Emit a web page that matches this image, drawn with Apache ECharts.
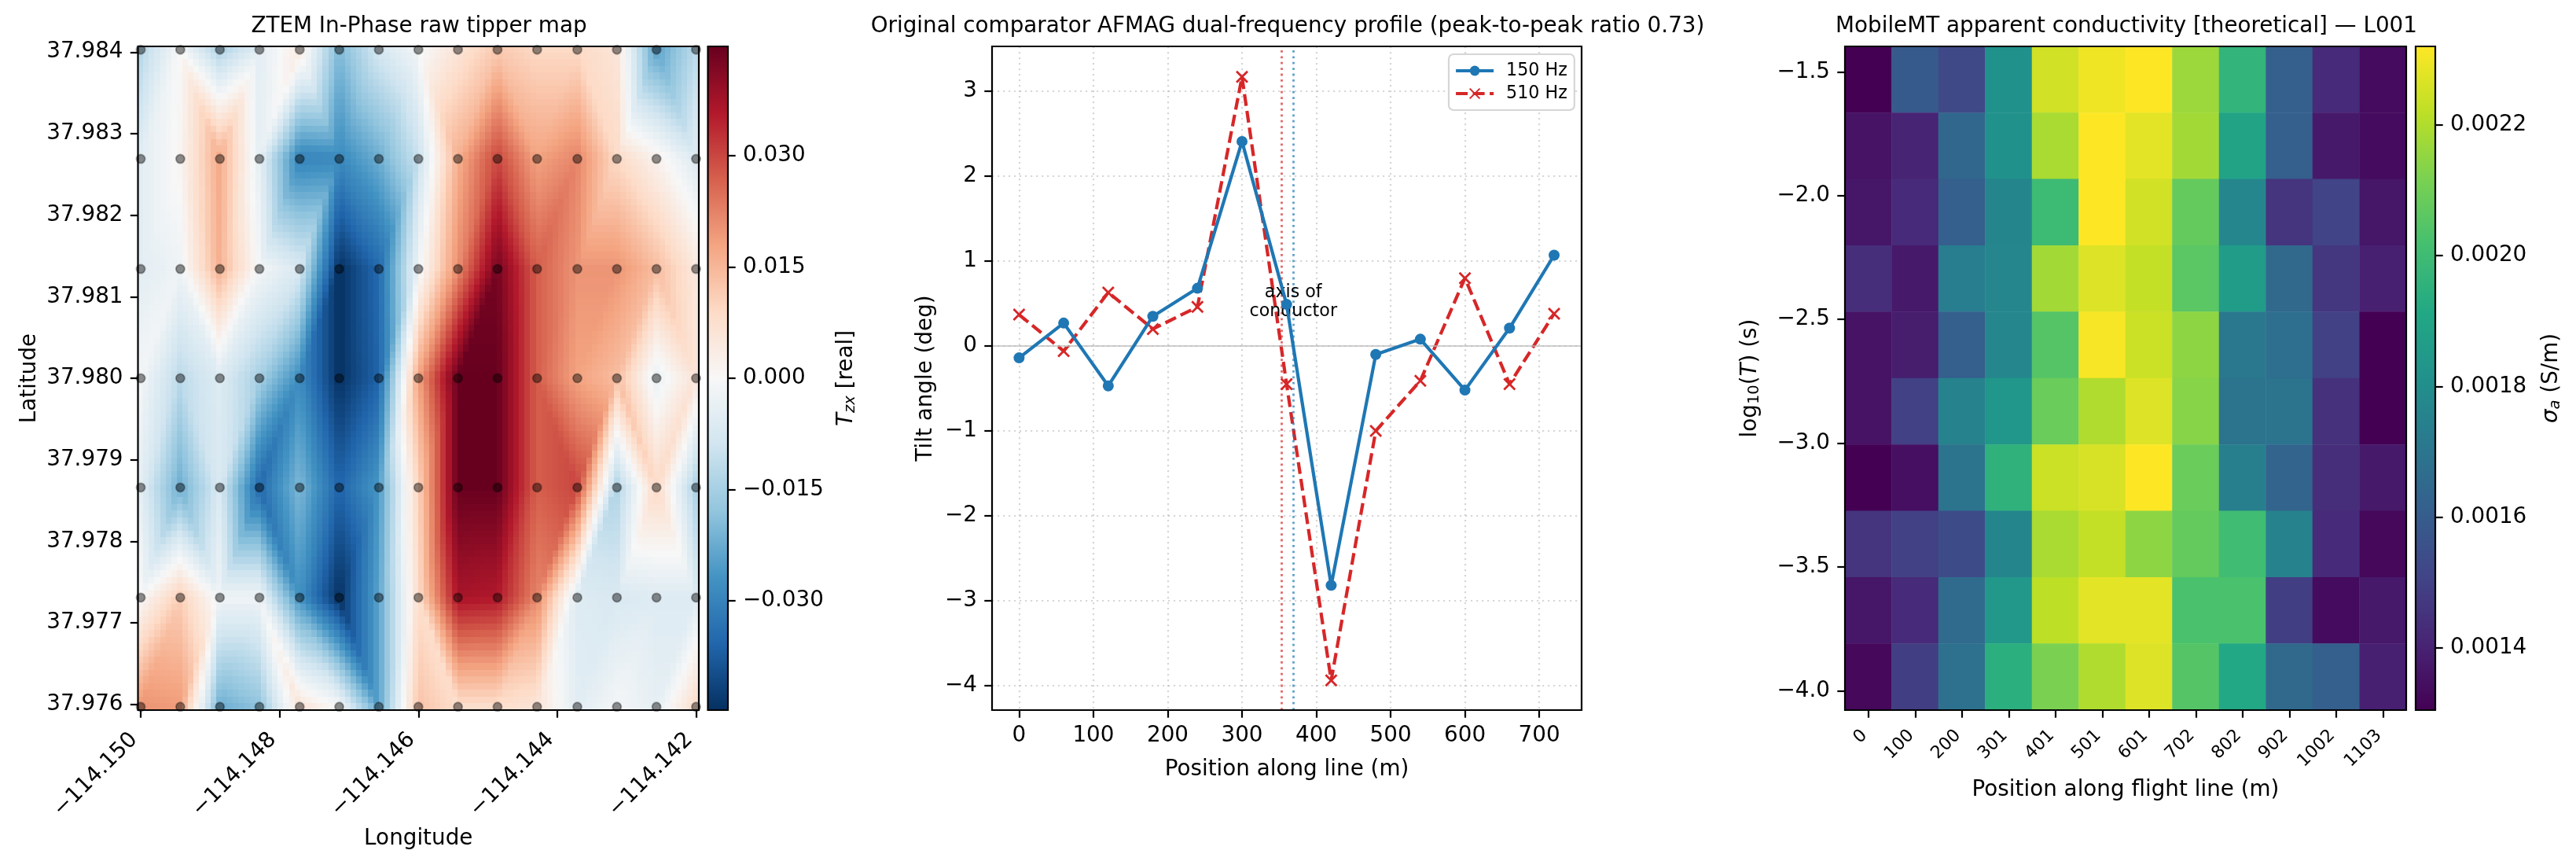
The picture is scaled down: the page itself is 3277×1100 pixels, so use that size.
<!DOCTYPE html>
<html><head><meta charset="utf-8">
<style>html,body{margin:0;padding:0;background:#fff}#c{width:3277px;height:1100px}</style>
<script src="https://cdn.jsdelivr.net/npm/echarts@6/dist/echarts.min.js"></script>
</head><body><div id="c"></div>
<script>
// ---------- left panel: stations and read tipper values ----------
const stationLons=[-114.15,-114.14943,-114.14886,-114.14829,-114.14771,-114.14714,-114.14657,-114.146,-114.14543,-114.14486,-114.14429,-114.14371,-114.14314,-114.14257,-114.142];
const stationLats=[37.98403,37.98269,37.98134,37.98,37.97866,37.97731,37.97597];
const tipperRows=[
[-.013,0,-.014,-.005,.004,-.020,-.008,-.001,.006,.012,.009,.009,.006,-.024,-.012],
[-.005,.001,.017,-.004,-.030,-.029,-.022,-.010,.016,.030,.018,.022,.009,.002,-.006],
[-.005,-.002,.016,-.001,-.007,-.0447,-.035,-.002,.021,.043,.027,.020,.020,.014,.005],
[-.001,-.012,-.006,-.015,-.028,-.0447,-.036,.018,.0447,.0447,.027,.018,.014,-.003,.006],
[-.005,-.022,-.007,-.035,-.020,-.036,-.026,.010,.0447,.0447,.027,.030,-.014,.009,-.014],
[0,.011,-.002,-.002,-.027,-.0447,-.024,.008,.037,.036,.022,-.006,-.007,-.006,-.006],
[.020,.019,-.022,-.018,.006,-.001,-.024,.013,.008,.008,.006,-.005,-.001,-.004,.008]];
const meshDiagonals=["fbffbffbfbfbfb","fbfffbfffbffbf","fbfffffffffffb","fbffffffffbfbf","fbfbffffbffffb","fffbbbfbffffff"];
const lonTicks=[-114.15,-114.148,-114.146,-114.144,-114.142];
const latTicks=[37.976,37.977,37.978,37.979,37.98,37.981,37.982,37.983,37.984];
const tipperTicks=[-.03,-.015,0,.015,.03];
// ---------- middle panel ----------
const positions=[0,60,120,180,240,300,360,420,480,540,600,660,720];
const tilt150=[-.14,.27,-.47,.35,.68,2.41,.49,-2.82,-.10,.08,-.52,.21,1.07];
const tilt510=[.37,-.06,.63,.20,.46,3.17,-.45,-3.94,-1.0,-.41,.80,-.45,.38];
const axis150=369, axis510=353;
const profileXTicks=[0,100,200,300,400,500,600,700];
const profileYTicks=[-4,-3,-2,-1,0,1,2,3];
// ---------- right panel ----------
const flightPositions=['0','100','200','301','401','501','601','702','802','902','1002','1103'];
const logPeriods=['-1.53','-1.80','-2.07','-2.33','-2.60','-2.87','-3.14','-3.41','-3.68','-3.95'];
const sigmaRows=[
[1.305,1.589,1.528,1.813,2.249,2.300,2.320,2.168,1.965,1.610,1.427,1.335],
[1.356,1.406,1.640,1.813,2.188,2.320,2.279,2.178,1.894,1.610,1.376,1.335],
[1.366,1.427,1.610,1.762,1.995,2.320,2.249,2.076,1.772,1.457,1.508,1.366],
[1.437,1.376,1.731,1.772,2.178,2.269,2.229,2.056,1.863,1.650,1.467,1.396],
[1.356,1.386,1.610,1.772,2.046,2.310,2.239,2.147,1.711,1.670,1.498,1.305],
[1.356,1.498,1.752,1.833,2.087,2.198,2.269,2.137,1.691,1.691,1.447,1.305],
[1.305,1.346,1.691,1.955,2.239,2.259,2.320,2.087,1.741,1.630,1.437,1.376],
[1.457,1.498,1.538,1.762,2.188,2.229,2.147,2.076,2.005,1.752,1.427,1.325],
[1.366,1.427,1.660,1.843,2.219,2.279,2.279,2.026,2.026,1.488,1.335,1.376],
[1.325,1.488,1.681,1.944,2.117,2.198,2.269,2.046,1.914,1.650,1.610,1.396]];
const logTTicks=[-4,-3.5,-3,-2.5,-2,-1.5];
const sigmaTicks=[.0014,.0016,.0018,.002,.0022];
// ---------- scale limits ----------
const tipperMin=-.0447,tipperMax=.0447,sigmaMin=.001305,sigmaMax=.00232;
const rdbu=['#053061','#2166ac','#4393c3','#92c5de','#d1e5f0','#f7f7f7','#fddbc7','#f4a582','#d6604d','#b2182b','#67001f'];
const viridis=['#440154','#482475','#414487','#355f8d','#2a788e','#21918c','#22a884','#44bf70','#7ad151','#bddf26','#fde725'];

const FONT='DejaVu Sans',TICK=27.8,LW=2.2;
const G={map:{x:175.5,y:59,w:713.5,h:844},mapCb:{x:900.5,y:59,w:25.5,h:844},
 prof:{x:1262,y:59,w:750,h:844},heat:{x:2347,y:59,w:714,h:844},heatCb:{x:3073,y:59,w:25,h:844}};
const grid=Object.values(G).map(g=>({left:g.x,top:g.y,width:g.w,height:g.h,containLabel:false}));
const hex=c=>[parseInt(c.slice(1,3),16),parseInt(c.slice(3,5),16),parseInt(c.slice(5,7),16)];
const rdbuRgb=rdbu.map(hex);
function rdbuColor(v){let t=(v-tipperMin)/(tipperMax-tipperMin)*10;t=Math.max(0,Math.min(9.999,t));
 const i=Math.floor(t),f=t-i,a=rdbuRgb[i],b=rdbuRgb[i+1];
 return 'rgb('+[0,1,2].map(k=>Math.round(a[k]+(b[k]-a[k])*f)).join(',')+')';}
const stops=a=>a.map((c,i)=>({offset:1-i/(a.length-1),color:c})).reverse();

// shading inside one mesh triangle, from its read corner stations
function surface(c,r,u,v){const z=tipperRows,a=z[r][c],b=z[r][c+1],d=z[r+1][c],e=z[r+1][c+1];
 if(meshDiagonals[r][c]==='b'){return u>=v? a+u*(b-a)+v*(e-b): a+v*(d-a)+u*(e-d);}
 return u+v<=1? a+u*(b-a)+v*(d-a): e+(1-u)*(d-e)+(1-v)*(b-e);}
const MESH=100,lonA=stationLons[0],lonB=stationLons[14],latA=stationLats[0],latB=stationLats[6];
function renderQuad(p,api){const c=api.value(0),r=api.value(1),kids=[];
 const dx=(lonB-lonA)/(MESH-1),dy=(latB-latA)/(MESH-1);
 for(let i=0;i<MESH;i++){const lon=lonA+i*dx;
  if(lon<stationLons[c]-1e-9||(lon>=stationLons[c+1]-1e-9&&c<13))continue;
  for(let j=0;j<MESH;j++){const lat=latA+j*dy;
   if(lat>stationLats[r]+1e-9||(lat<=stationLats[r+1]+1e-9&&r<5))continue;
   const u=(lon-stationLons[c])/(stationLons[c+1]-stationLons[c]),v=(lat-stationLats[r])/(stationLats[r+1]-stationLats[r]);
   const p0=api.coord([lon-dx/2,lat-dy/2]),p1=api.coord([lon+dx/2,lat+dy/2]);
   const x0=Math.floor(p0[0]),y0=Math.floor(p0[1]),x1=Math.ceil(p1[0]),y1=Math.ceil(p1[1]);
   kids.push({type:'rect',shape:{x:x0,y:y0,width:x1-x0,height:y1-y0},style:{fill:rdbuColor(surface(c,r,u,v))}});
  }}
 return {type:'group',children:kids};}
const quads=[];meshDiagonals.forEach((s,r)=>{for(let c=0;c<s.length;c++)quads.push([c,r]);});
const stations=[];stationLats.forEach(la=>stationLons.forEach(lo=>stations.push([lo,la])));

const minus=s=>String(s).replace('-','\u2212');
const tickStyle={show:true,length:9.7,lineStyle:{color:'#000',width:LW}};
function axisCommon(o){return Object.assign({axisLine:{show:false,onZero:false},splitLine:{show:false},nameTextStyle:{fontFamily:FONT,fontSize:TICK,color:'#000'}},o);}
function lab(fmt,extra){return Object.assign({fontFamily:FONT,fontSize:TICK,color:'#000',margin:19,formatter:fmt,showMinLabel:true,showMaxLabel:true},extra||{});}
const hidden=(g,t)=>({gridIndex:g,type:t||'value',min:0,max:1,show:false});
const frame=g=>({type:'custom',xAxisIndex:g.x,yAxisIndex:g.y,z:20,silent:true,clip:false,data:[[0,0]],
 renderItem:(p)=>{const s=p.coordSys;return {type:'rect',shape:{x:s.x,y:s.y,width:s.width,height:s.height},style:{fill:'none',stroke:'#000',lineWidth:LW}};}});
const colorbar=(xi,yi,lo,hi,cols)=>({type:'custom',xAxisIndex:xi,yAxisIndex:yi,silent:true,data:[[lo,hi]],
 renderItem:(p,api)=>{const a=api.coord([0,api.value(1)]),b=api.coord([1,api.value(0)]);
  return {type:'rect',shape:{x:a[0],y:a[1],width:b[0]-a[0],height:b[1]-a[1]},
   style:{fill:new echarts.graphic.LinearGradient(0,0,0,1,stops(cols))}};}});
const XICON='path://M0 0L10 10M10 0L0 10';
const titleOf=(text,cx)=>({text,left:cx,top:15,textAlign:'center',textStyle:{fontFamily:FONT,fontSize:TICK,fontWeight:'normal',color:'#000'}});
const ML=(color,xv)=>({silent:true,symbol:'none',animation:false,label:{show:false},lineStyle:{color,type:[2.8,4.6],width:2.8,opacity:.7},data:[{xAxis:xv}]});
const subRich={i:{fontFamily:FONT,fontSize:TICK,fontStyle:'italic',color:'#000'},s:{fontFamily:FONT,fontSize:19.5,fontStyle:'italic',color:'#000',verticalAlign:'bottom',padding:[10,0,0,0]}};
const dotGrid={show:true,lineStyle:{color:'rgba(176,176,176,.5)',type:[2.2,4.8],width:2.2}};
const option={animation:false,backgroundColor:'#fff',grid,
 title:[titleOf('ZTEM In-Phase raw tipper map',528),
        titleOf('Original comparator AFMAG dual-frequency profile (peak-to-peak ratio 0.73)',1633),
        titleOf('MobileMT apparent conductivity [theoretical] \u2014 L001',2700)],
 legend:{data:['150 Hz','510 Hz'],left:1843,top:69,orient:'vertical',padding:[10,9,10,7],itemGap:7,itemWidth:48,itemHeight:16,
  backgroundColor:'#fff',borderColor:'rgba(204,204,204,.8)',borderWidth:2.2,borderRadius:6,lineStyle:{width:4.2},
  textStyle:{fontFamily:FONT,fontSize:22.2,color:'#000',padding:[0,0,0,11]},selectedMode:false,z:15},
 visualMap:[{show:false,seriesIndex:4,dimension:2,min:sigmaMin*1000,max:sigmaMax*1000,inRange:{color:viridis}}],
 xAxis:[
  axisCommon({gridIndex:0,type:'value',min:-114.15004,max:-114.14196,name:'Longitude',nameLocation:'middle',nameGap:150,
   axisTick:Object.assign({customValues:lonTicks},tickStyle),
   axisLabel:lab(v=>minus(v.toFixed(3)),{rotate:45,customValues:lonTicks,margin:25,padding:[0,12,0,0]})}),
  hidden(1),
  axisCommon({gridIndex:2,type:'value',min:-36.4,max:757,name:'Position along line (m)',nameLocation:'middle',nameGap:62,
   axisTick:Object.assign({customValues:profileXTicks},tickStyle),
   axisLabel:lab(v=>String(v),{customValues:profileXTicks}),
   splitLine:dotGrid}),
  axisCommon({gridIndex:3,type:'category',data:flightPositions,name:'Position along flight line (m)',nameLocation:'middle',nameGap:88,
   axisTick:Object.assign({alignWithLabel:true},tickStyle),
   axisLabel:{fontFamily:FONT,fontSize:22.2,color:'#000',rotate:45,margin:24,padding:[0,7,0,0],interval:0}}),
  hidden(4)],
 yAxis:[
  axisCommon({gridIndex:0,type:'value',min:37.97593,max:37.98407,name:'Latitude',nameLocation:'middle',nameGap:124,nameRotate:90,
   axisTick:Object.assign({customValues:latTicks},tickStyle),
   axisLabel:lab(v=>v.toFixed(3),{customValues:latTicks})}),
  axisCommon({gridIndex:1,type:'value',position:'right',min:tipperMin,max:tipperMax,name:'{i|T}{s|zx} [real]',nameLocation:'middle',nameGap:136,nameRotate:90,
   nameTextStyle:{fontFamily:FONT,fontSize:TICK,color:'#000',rich:subRich},
   axisTick:Object.assign({customValues:tipperTicks},tickStyle),
   axisLabel:lab(v=>minus(v.toFixed(3)),{customValues:tipperTicks})}),
  axisCommon({gridIndex:2,type:'value',min:-4.29,max:3.53,name:'Tilt angle (deg)',nameLocation:'middle',nameGap:70,nameRotate:90,
   axisTick:Object.assign({customValues:profileYTicks},tickStyle),
   axisLabel:lab(v=>minus(v),{customValues:profileYTicks}),
   splitLine:dotGrid}),
  {gridIndex:3,type:'category',position:'right',data:logPeriods.slice().reverse(),show:false},
  axisCommon({gridIndex:4,type:'value',position:'right',min:sigmaMin,max:sigmaMax,name:'{i|\u03c3}{s|a} (S/m)',nameLocation:'middle',nameGap:133,nameRotate:90,
   nameTextStyle:{fontFamily:FONT,fontSize:TICK,color:'#000',rich:subRich},
   axisTick:Object.assign({customValues:sigmaTicks},tickStyle),
   axisLabel:lab(v=>v.toFixed(4),{customValues:sigmaTicks})}),
  axisCommon({gridIndex:3,type:'value',position:'left',min:-4.078,max:-1.3975,name:'log{n|10}({i|T}) (s)',nameLocation:'middle',nameGap:105,nameRotate:90,
   nameTextStyle:{fontFamily:FONT,fontSize:TICK,color:'#000',rich:{i:subRich.i,n:{fontFamily:FONT,fontSize:19.5,color:'#000',verticalAlign:'bottom',padding:[10,0,0,0]}}},
   axisTick:Object.assign({customValues:logTTicks},tickStyle),
   axisLabel:lab(v=>minus(v.toFixed(1)),{customValues:logTTicks})})],
 series:[
  {type:'custom',name:'surface',xAxisIndex:0,yAxisIndex:0,clip:true,silent:true,data:quads,renderItem:renderQuad,z:1,progressive:0},
  {type:'scatter',name:'stations',xAxisIndex:0,yAxisIndex:0,data:stations,symbolSize:11,clip:true,silent:true,z:3,
   itemStyle:{color:'rgba(0,0,0,.55)',borderColor:'rgba(0,0,0,.4)',borderWidth:2}},
  {type:'line',name:'150 Hz',xAxisIndex:2,yAxisIndex:2,data:positions.map((x,i)=>[x,tilt150[i]]),symbol:'circle',symbolSize:14,
   lineStyle:{color:'#1f77b4',width:4.2},itemStyle:{color:'#1f77b4'},z:5,
   markLine:{silent:true,symbol:'none',animation:false,label:{show:false},data:[
     {yAxis:0,lineStyle:{color:'#bbb',type:'solid',width:2.2,opacity:.7}},
     {xAxis:axis150,lineStyle:{color:'#1f77b4',type:[2.8,4.6],width:2.8,opacity:.7}}]},
   markPoint:{silent:true,symbol:'circle',symbolSize:0,animation:false,
    label:{show:true,position:'inside',formatter:'axis of\nconductor',fontFamily:FONT,fontSize:22.2,color:'#000',lineHeight:24},
    data:[{coord:[axis150,.515]}]}},
  {type:'line',name:'510 Hz',xAxisIndex:2,yAxisIndex:2,data:positions.map((x,i)=>[x,tilt510[i]]),symbol:XICON,symbolSize:14,
   lineStyle:{color:'#d62728',width:4.2,type:[15,6.5]},itemStyle:{color:'#d62728',borderColor:'#d62728',borderWidth:2.8},z:4,
   markLine:ML('#d62728',axis510)},
  {type:'heatmap',name:'sigma',xAxisIndex:3,yAxisIndex:3,z:1,silent:true,progressive:0,
   data:(()=>{const d=[];const n=sigmaRows.length;sigmaRows.forEach((row,r)=>row.forEach((v,c)=>d.push([c,n-1-r,v])));return d;})()},
  colorbar(1,1,tipperMin,tipperMax,rdbu),
  colorbar(4,4,sigmaMin,sigmaMax,viridis),
  frame({x:0,y:0}),frame({x:1,y:1}),frame({x:2,y:2}),frame({x:3,y:5}),frame({x:4,y:4})
 ]};
const chart=echarts.init(document.getElementById('c'),null,{renderer:'canvas',width:3277,height:1100});
chart.setOption(option);
</script></body></html>
